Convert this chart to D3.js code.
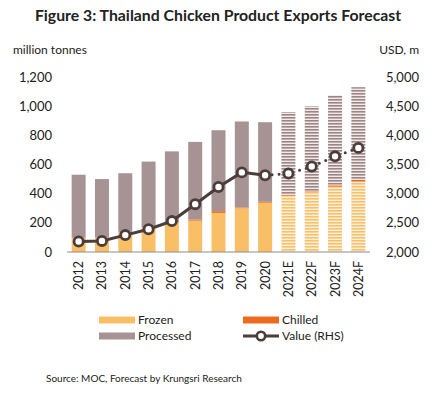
<!DOCTYPE html>
<html lang="en">
<head>
<meta charset="UTF-8">
<title>Thailand Chicken Product Exports Forecast</title>
<script src="https://d3js.org/d3.v7.min.js"></script>
<style>
  body { margin: 0; background: #fff; }
  text { font-family: Lato, "Open Sans", sans-serif; fill: #222; }
</style>
</head>
<body>
<div id="chart"></div>
<script>
var years = ["2012","2013","2014","2015","2016","2017","2018","2019","2020","2021E","2022F","2023F","2024F"];
var frozen = [95, 100, 135, 165, 200, 215, 268, 300, 338, 386, 410, 448, 482];
var chilled = [3, 3, 3, 3, 3, 8, 12, 5, 6, 8, 8, 15, 15];
var total = [530, 500, 540, 620, 690, 755, 835, 895, 890, 960, 1000, 1075, 1130];
var valueRHS = [2180, 2190, 2290, 2390, 2530, 2820, 3115, 3365, 3315, 3345, 3465, 3640, 3785];
var leftTicks = [0, 200, 400, 600, 800, 1000, 1200];
var rightTicks = [2000, 2500, 3000, 3500, 4000, 4500, 5000];

var width = 435, height = 393;
var svg = d3.select("#chart").append("svg")
    .attr("width", width)
    .attr("height", height);

var defs = svg.append("defs");
function stripes(id, bg, fg) {
    var p = defs.append("pattern")
        .attr("id", id)
        .attr("patternUnits", "userSpaceOnUse")
        .attr("width", 4).attr("height", 3);
    p.append("rect").attr("width", 4).attr("height", 3).attr("fill", bg);
    p.append("rect").attr("width", 4).attr("height", 1.6).attr("fill", fg);
}
stripes("frozenF", "#fdf0dc", "#f9c06a");
stripes("chilledF", "#f7b48a", "#e8661c");
stripes("processedF", "#f1eaea", "#9c8585");

var x = d3.scaleBand().domain(years).range([67, 370]).paddingInner(0.4).paddingOuter(0.2);
var yL = d3.scaleLinear().domain([0, 1200]).range([252, 77]);
var yR = d3.scaleLinear().domain([2000, 5000]).range([252, 77]);

var isForecast = function(y) { return /[EF]$/.test(y); };

var rows = years.map(function(y, i) {
    return { year: y, frozen: frozen[i], chilled: chilled[i],
             processed: total[i] - frozen[i] - chilled[i], value: valueRHS[i] };
});

var stack = d3.stack().keys(["frozen", "chilled", "processed"])(rows);
var solid = { frozen: "#f9bf66", chilled: "#ec6b1e", processed: "#a79393" };

stack.forEach(function(layer) {
    svg.append("g").selectAll("rect")
        .data(layer)
        .enter().append("rect")
        .attr("x", function(d) { return x(d.data.year); })
        .attr("width", x.bandwidth())
        .attr("y", function(d) { return yL(d[1]); })
        .attr("height", function(d) { return yL(d[0]) - yL(d[1]); })
        .attr("fill", function(d) {
            return isForecast(d.data.year) ? "url(#" + layer.key + "F)" : solid[layer.key];
        });
});

// baseline
svg.append("line")
    .attr("x1", 67).attr("x2", 370)
    .attr("y1", yL(0)).attr("y2", yL(0))
    .attr("stroke", "#8c8c8c").attr("stroke-width", 1);

// left axis labels
svg.append("g").selectAll("text")
    .data(leftTicks).enter().append("text")
    .attr("x", 52).attr("y", function(d) { return yL(d); })
    .attr("dy", "0.35em").attr("text-anchor", "end")
    .style("font-size", "13px")
    .text(d3.format(","));

svg.append("g").selectAll("text")
    .data(rightTicks).enter().append("text")
    .attr("x", 419).attr("y", function(d) { return yR(d); })
    .attr("dy", "0.35em").attr("text-anchor", "end")
    .style("font-size", "13px")
    .text(d3.format(","));

// x labels
svg.append("g").selectAll("text")
    .data(years).enter().append("text")
    .attr("transform", function(d) {
        return "translate(" + (x(d) + x.bandwidth() / 2 + 4.5) + ",261) rotate(-90)";
    })
    .attr("text-anchor", "end")
    .style("font-size", "12.5px")
    .text(function(d) { return d; });

// value line
var line = d3.line()
    .x(function(d) { return x(d.year) + x.bandwidth() / 2; })
    .y(function(d) { return yR(d.value); });

var split = years.indexOf("2020");
svg.append("path")
    .datum(rows.slice(0, split + 1))
    .attr("d", line)
    .attr("fill", "none").attr("stroke", "#4a3d3b").attr("stroke-width", 3);
svg.append("path")
    .datum(rows.slice(split))
    .attr("d", line)
    .attr("fill", "none").attr("stroke", "#4a3d3b").attr("stroke-width", 3)
    .attr("stroke-dasharray", "0,7").attr("stroke-linecap", "round");

svg.append("g").selectAll("circle")
    .data(rows).enter().append("circle")
    .attr("cx", function(d) { return x(d.year) + x.bandwidth() / 2; })
    .attr("cy", function(d) { return yR(d.value); })
    .attr("r", 4.6)
    .attr("fill", "#fff").attr("stroke", "#4a3d3b").attr("stroke-width", 2.8);

// titles
svg.append("text")
    .attr("x", 218).attr("y", 21)
    .attr("text-anchor", "middle")
    .style("font-size", "15.8px").style("font-weight", "bold")
    .text("Figure 3: Thailand Chicken Product Exports Forecast");

svg.append("text").attr("x", 13).attr("y", 54)
    .style("font-size", "12px").text("million tonnes");
svg.append("text").attr("x", 419).attr("y", 54).attr("text-anchor", "end")
    .style("font-size", "12px").text("USD, m");

// legend
var legend = [
    { label: "Frozen", type: "rect", color: solid.frozen, x: 99, y: 320 },
    { label: "Chilled", type: "rect", color: solid.chilled, x: 243, y: 320 },
    { label: "Processed", type: "rect", color: solid.processed, x: 99, y: 336 },
    { label: "Value (RHS)", type: "line", color: "#4a3d3b", x: 243, y: 336 }
];
var lg = svg.append("g").selectAll("g").data(legend).enter().append("g");
lg.filter(function(d) { return d.type === "rect"; }).append("rect")
    .attr("x", function(d) { return d.x; }).attr("y", function(d) { return d.y - 3.5; })
    .attr("width", 36).attr("height", 7)
    .attr("fill", function(d) { return d.color; });
var ll = lg.filter(function(d) { return d.type === "line"; });
ll.append("line")
    .attr("x1", function(d) { return d.x; }).attr("x2", function(d) { return d.x + 36; })
    .attr("y1", function(d) { return d.y; }).attr("y2", function(d) { return d.y; })
    .attr("stroke", function(d) { return d.color; }).attr("stroke-width", 3);
ll.append("circle")
    .attr("cx", function(d) { return d.x + 18; }).attr("cy", function(d) { return d.y; })
    .attr("r", 4.2).attr("fill", "#fff")
    .attr("stroke", function(d) { return d.color; }).attr("stroke-width", 2.6);
lg.append("text")
    .attr("x", function(d) { return d.x + 39; }).attr("y", function(d) { return d.y; })
    .attr("dy", "0.35em").style("font-size", "12px")
    .text(function(d) { return d.label; });

svg.append("text").attr("x", 46).attr("y", 382)
    .style("font-size", "10px")
    .text("Source: MOC, Forecast by Krungsri Research");
</script>
</body>
</html>
